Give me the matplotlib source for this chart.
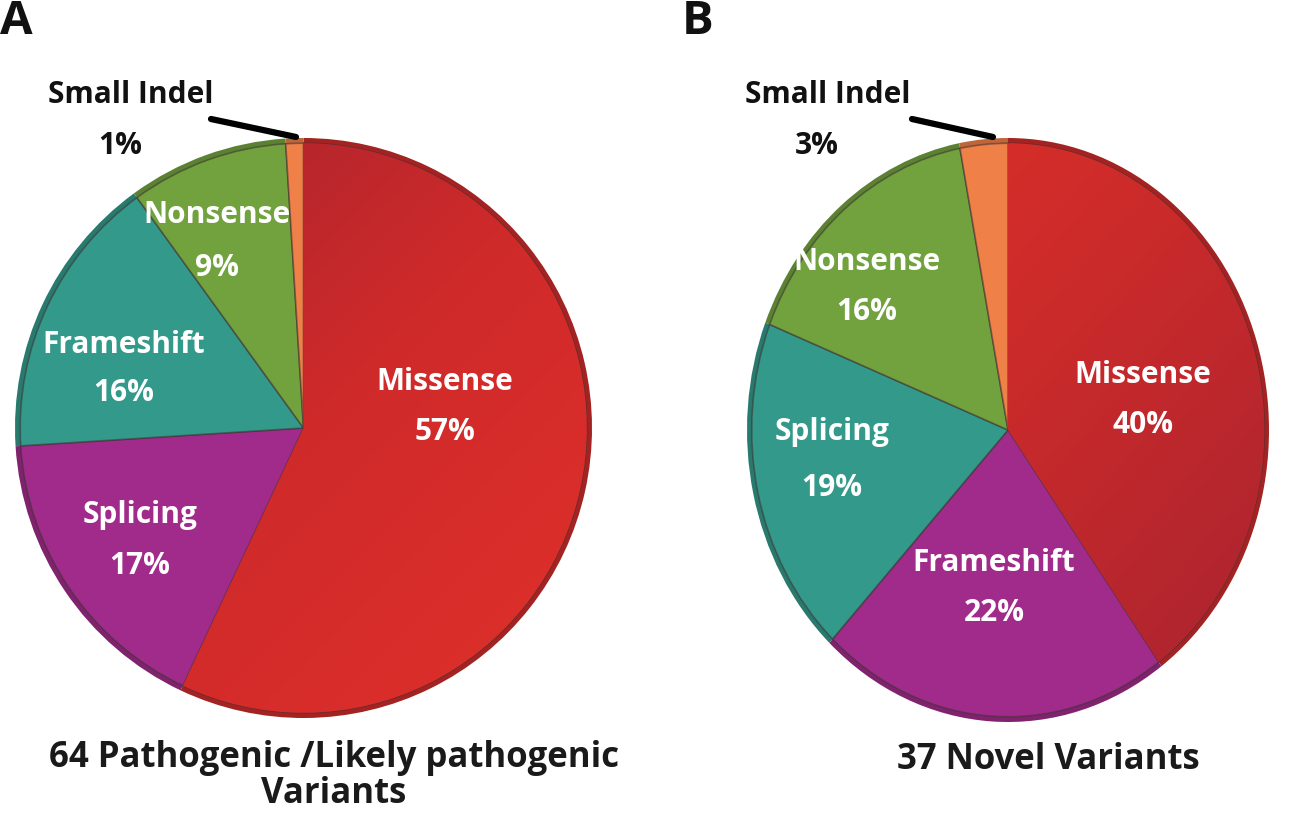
import matplotlib
matplotlib.use("Agg")
import matplotlib.pyplot as plt
import numpy as np
from matplotlib.colors import LinearSegmentedColormap, to_rgb

# ---- data ----
labels_a = ["Missense", "Splicing", "Frameshift", "Nonsense", "Small Indel"]
values_a = [57, 17, 16, 9, 1]
labels_b = ["Missense", "Frameshift", "Splicing", "Nonsense", "Small Indel"]
values_b = [40, 22, 19, 16, 3]
title_a = "64 Pathogenic /Likely pathogenic\nVariants"
title_b = "37 Novel Variants"

colors = ["#cc2a2a", "#a12b8b", "#33998a", "#72a23e", "#ee8048"]

plt.rcParams['font.family'] = ['Open Sans', 'DejaVu Sans']
W, H = 1299, 814
fig = plt.figure(figsize=(W / 100, H / 100), dpi=100)


def shade(c, f):
    r, g, b = to_rgb(c)
    return (r * f, g * f, b * f)


def px_axes(x0, y0, x1, y1):
    return fig.add_axes([x0 / W, (H - y1) / H, (x1 - x0) / W, (y1 - y0) / H])


def draw_pie(ax, values, grad):
    # outer rim (bevel shadow)
    ax.pie(values, colors=[shade(c, 0.8) for c in colors], startangle=90,
           counterclock=False, radius=1.0,
           wedgeprops=dict(linewidth=0))
    wedges, _ = ax.pie(values, colors=colors, startangle=90, counterclock=False,
                       radius=0.982,
                       wedgeprops=dict(linewidth=1.2, edgecolor=(0.25, 0.2, 0.2, 0.55)))
    # gradient on the red slice
    cmap = LinearSegmentedColormap.from_list("g", grad)
    yy, xx = np.mgrid[1:-1:200j, -1:1:200j]
    g = (xx - yy) / 2.0
    im = ax.imshow(g, extent=[-1, 1, -1, 1], cmap=cmap, aspect='auto',
                   zorder=wedges[0].get_zorder() + 0.1, vmin=-1, vmax=1)
    im.set_clip_path(wedges[0])
    ax.set_aspect('auto')
    ax.set_xlim(-1, 1)
    ax.set_ylim(-1, 1)
    ax.axis('off')
    return wedges


ax_a = px_axes(15, 138, 592, 718)
draw_pie(ax_a, values_a, ["#9e2230", "#cf2a2a", "#e0302a"])
ax_b = px_axes(747, 138, 1269, 722)
draw_pie(ax_b, values_b, ["#e23128", "#c82a2b", "#a82330"])


def ftext(x, y, s, **kw):
    fig.text(x / W, 1 - y / H, s, ha='center', va='center', fontweight='bold', **kw)


lab_fs = 21.5
# Panel A labels
pos_a = [(445, 382, 432), (140, 515, 566), (124, 345, 393), (217, 215, 268)]
for (x, y1, y2), lab, v in zip(pos_a, labels_a[:4], values_a[:4]):
    ftext(x, y1, lab, color='white', fontsize=lab_fs)
    ftext(x, y2, f"{v}%", color='white', fontsize=lab_fs)
ftext(131, 95, labels_a[4], color='#111111', fontsize=lab_fs)
ftext(120, 146, f"{values_a[4]}%", color='#111111', fontsize=lab_fs)

# Panel B labels
pos_b = [(1143, 375, 425), (994, 563, 613), (832, 432, 488), (867, 262, 312)]
for (x, y1, y2), lab, v in zip(pos_b, labels_b[:4], values_b[:4]):
    ftext(x, y1, lab, color='white', fontsize=lab_fs)
    ftext(x, y2, f"{v}%", color='white', fontsize=lab_fs)
ftext(828, 95, labels_b[4], color='#111111', fontsize=lab_fs)
ftext(817, 146, f"{values_b[4]}%", color='#111111', fontsize=lab_fs)

# leader lines
for (xa, ya, xb, yb) in [(211, 119, 296, 137), (912, 119, 993, 137)]:
    fig.add_artist(plt.Line2D([xa / W, xb / W], [1 - ya / H, 1 - yb / H],
                              color='black', lw=4.5, solid_capstyle='round'))

# titles
ftext(334, 776, title_a, color='#1a1a1a', fontsize=25, linespacing=1.0)
ftext(1048, 760, title_b, color='#1a1a1a', fontsize=25)

# panel letters
fig.text(0 / W, 1 - 22 / H, "A", fontsize=34, fontweight='bold', va='center', ha='left', color='#111111')
fig.text(682 / W, 1 - 22 / H, "B", fontsize=34, fontweight='bold', va='center', ha='left', color='#111111')

fig.savefig("out.png", dpi=100, facecolor='white')
